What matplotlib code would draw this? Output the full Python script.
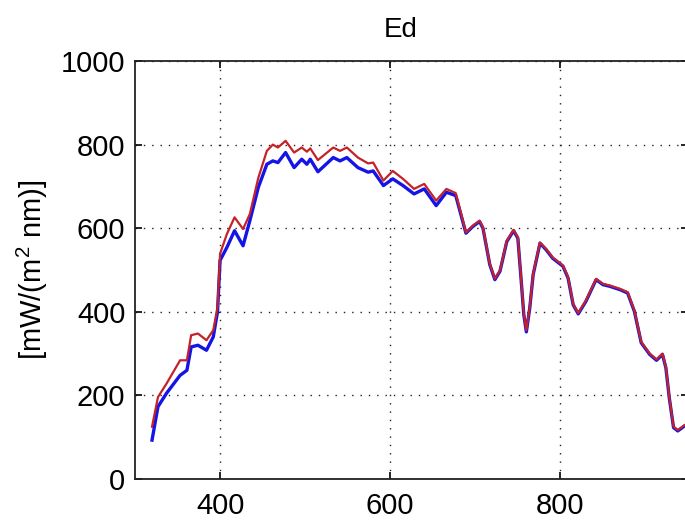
import numpy as np
import matplotlib
matplotlib.use("Agg")
import matplotlib.pyplot as plt

# wavelengths [nm]
wavelength = [320, 327, 337, 353, 361, 366, 374, 384, 392, 397,
              400, 408, 417, 427, 435, 445, 455, 462, 468, 477,
              487, 496, 502, 506, 515, 533, 541, 549, 562, 574,
              580, 592, 603, 615, 628, 640, 654, 666, 677, 689,
              697, 705, 709, 717, 723, 729, 737, 745, 750, 754,
              757, 760, 764, 768, 776, 783, 791, 803, 809, 815,
              821, 830, 842, 850, 858, 870, 879, 887, 895, 905,
              913, 920, 924, 928, 933, 938, 946, 952]

# upper (red) spectrum
ed_red = [125, 196, 228, 284, 284, 344, 348, 332, 356, 411,
          539, 586, 626, 598, 634, 721, 785, 800, 793, 809,
          781, 793, 783, 791, 763, 793, 785, 793, 769, 755,
          757, 714, 737, 718, 694, 706, 666, 694, 684, 590,
          606, 618, 602, 515, 479, 499, 570, 596, 578, 475,
          395, 356, 411, 491, 566, 551, 530, 511, 483, 419,
          397, 427, 479, 467, 463, 455, 447, 403, 328, 300,
          286, 300, 268, 196, 125, 117, 129, 135]

# lower (blue) spectrum
ed_blue = [93, 173, 205, 248, 260, 316, 320, 308, 340, 400,
           523, 554, 594, 558, 618, 698, 753, 761, 757, 781,
           745, 765, 753, 765, 735, 769, 761, 769, 745, 734,
           737, 702, 718, 702, 682, 694, 654, 686, 678, 588,
           604, 616, 600, 513, 477, 497, 568, 594, 576, 473,
           393, 352, 409, 489, 564, 549, 528, 509, 481, 417,
           395, 425, 477, 465, 461, 453, 445, 401, 326, 298,
           284, 298, 266, 194, 123, 115, 127, 133]

x_ticks = [400, 600, 800]
y_ticks = [0, 200, 400, 600, 800, 1000]

plt.rcParams['font.family'] = ['Liberation Sans', 'DejaVu Sans']
plt.rcParams['mathtext.fontset'] = 'custom'
plt.rcParams['mathtext.rm'] = 'Liberation Sans'

fig = plt.figure(figsize=(6.85, 5.25), dpi=100)
# right edge of the axes sits just off the picture, like the cropped original
ax = fig.add_axes([135 / 685, 46 / 525, 553 / 685, 418 / 525])

ax.plot(wavelength, ed_blue, color='#1414e6', lw=2.4, zorder=3)
ax.plot(wavelength, ed_red, color='#c42228', lw=1.6, zorder=4)

ax.set_xlim(300, 950)
ax.set_ylim(0, 1000)
ax.set_xticks(x_ticks)
ax.set_yticks(y_ticks)

ax.grid(True, color='#222222', linestyle=(0, (1, 5)), lw=1.0)
ax.tick_params(direction='in', top=True, right=True, length=5, width=1.2,
               labelsize=21)
ax.tick_params(axis='x', pad=9)
ax.tick_params(axis='y', pad=7)
for s in ax.spines.values():
    s.set_linewidth(1.3)
    s.set_color('#222222')

ax.set_title('Ed', fontsize=20, x=0.481, pad=17)
ax.set_ylabel('[mW/(m$^2$ nm)]', fontsize=21, labelpad=8)

fig.savefig('out.png', dpi=100)
